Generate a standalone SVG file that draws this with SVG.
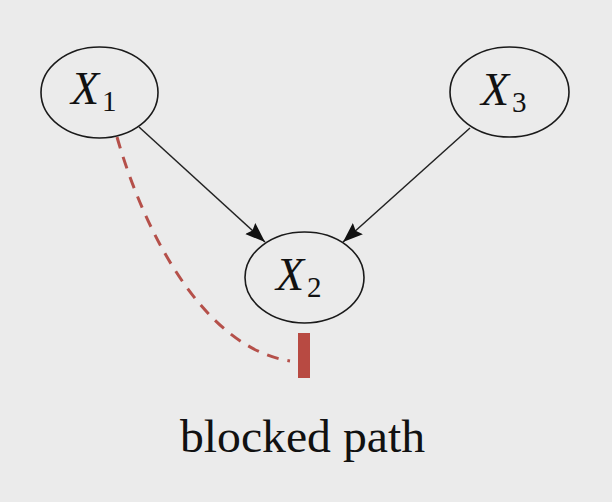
<svg xmlns="http://www.w3.org/2000/svg" width="612" height="502" viewBox="0 0 612 502">
<style>
.node ellipse{fill:none;stroke:#1a1a1a;stroke-width:1.6}
.lbl{font-family:"Liberation Serif","DejaVu Serif",serif;font-style:italic;font-size:46px;fill:#111}
.sub{font-style:normal;font-size:29px}
.edge{stroke:#222;stroke-width:1.5;fill:none}
.blocked{stroke:#b5504a;stroke-width:3;fill:none;stroke-dasharray:12 9}
.caption{font-family:"Liberation Serif","DejaVu Serif",serif;font-size:46px;fill:#111}
</style>
<defs>
<marker id="arr" markerUnits="userSpaceOnUse" markerWidth="22" markerHeight="16" refX="20" refY="7.5" orient="auto">
<path d="M0,0 L20,7.5 L0,15 L3,7.5 z" fill="#111"/>
</marker>
</defs>
<rect width="612" height="502" fill="#ebebeb"/>
<g id="connectors">
<line class="edge" x1="139" y1="127" x2="265" y2="242" marker-end="url(#arr)"/>
<line class="edge" x1="470" y1="128" x2="343" y2="242" marker-end="url(#arr)"/>
<path class="blocked" d="M117,137 C145,235 205,348 290,361"/>
<rect x="298" y="333" width="12" height="45" fill="#b84a42"/>
</g>
<g id="X1" class="node">
<ellipse cx="99.5" cy="92.5" rx="58.5" ry="45.5"/>
<text class="lbl" x="71" y="104">X<tspan class="sub" dx="3" dy="7">1</tspan></text>
</g>
<g id="X3" class="node">
<ellipse cx="509.5" cy="92" rx="59.5" ry="45"/>
<text class="lbl" x="481" y="105">X<tspan class="sub" dx="3" dy="7">3</tspan></text>
</g>
<g id="X2" class="node">
<ellipse cx="304.5" cy="277.5" rx="59.5" ry="45.5"/>
<text class="lbl" x="276" y="290">X<tspan class="sub" dx="3" dy="7">2</tspan></text>
</g>
<text class="caption" x="302.5" y="452" text-anchor="middle" textLength="245" lengthAdjust="spacingAndGlyphs">blocked path</text>
</svg>
